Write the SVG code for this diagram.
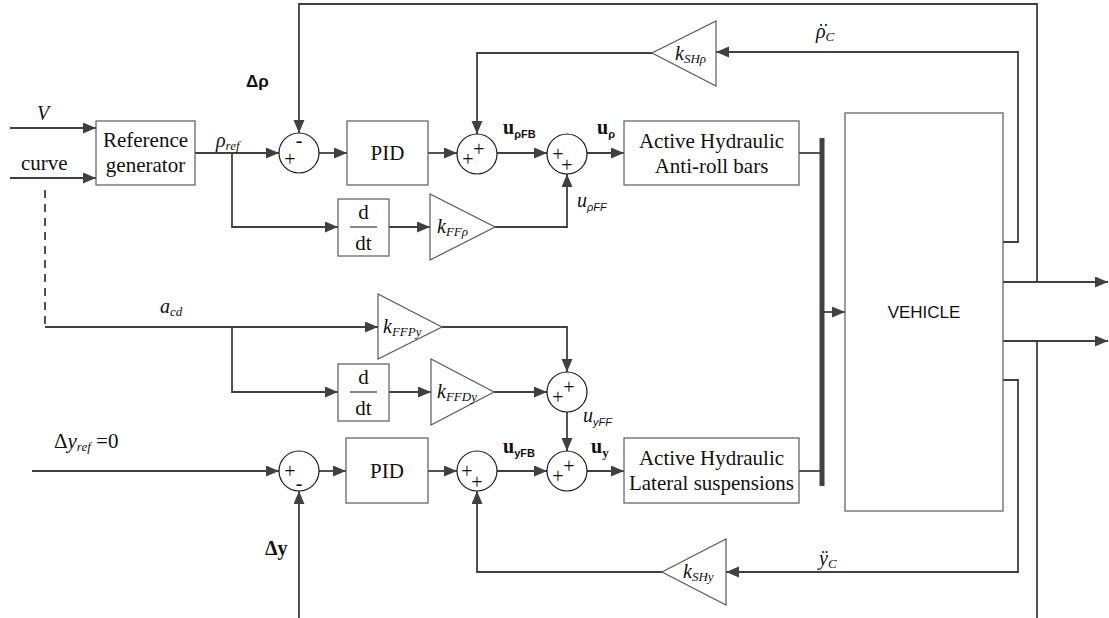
<svg xmlns="http://www.w3.org/2000/svg" width="1109" height="618" viewBox="0 0 1109 618">
<style>
.box{fill:#fff;stroke:#5a5a5a;stroke-width:1.2}
.tri{fill:#fff;stroke:#5a5a5a;stroke-width:1.2}
.sum{fill:#fff;stroke:#1a1a1a;stroke-width:1.2}
.c{fill:none;stroke:#404040;stroke-width:1.8}
.a{marker-end:url(#ah)}
.t{font-family:"Liberation Serif","Times New Roman",serif;font-size:21px;fill:#111}
.i{font-family:"Liberation Serif","Times New Roman",serif;font-style:italic;fill:#111}
.s{font-family:"Liberation Serif","Times New Roman",serif;font-size:20px;fill:#111}
.sb{font-family:"Liberation Sans",Arial,sans-serif;font-weight:bold;fill:#111}
.bs{font-family:"Liberation Serif","Times New Roman",serif;font-weight:bold;fill:#111}
.ss{font-family:"Liberation Sans",Arial,sans-serif;fill:#111}
</style>
<defs>
<marker id="ah" markerUnits="userSpaceOnUse" markerWidth="14" markerHeight="12" refX="13" refY="5.5" orient="auto">
<path d="M0,0 L13,5.5 L0,11 z" fill="#404040"/>
</marker>
</defs>
<rect width="1109" height="618" fill="#fff"/>

<g id="connectors">
<path class="c a" d="M10,128 H96"/>
<path class="c a" d="M10,178 H96"/>
<path class="c a" d="M195,153 H279"/>
<path class="c a" d="M232,153 V227 H338"/>
<path class="c a" d="M319,153 H347"/>
<path class="c a" d="M428,153 H457"/>
<path class="c a" d="M497,153 H547"/>
<path class="c a" d="M587,153 H624"/>
<path class="c a" d="M389,227 H430"/>
<path class="c a" d="M495,227 H567 V174"/>
<path class="c a" d="M1003,282 H1108"/>
<path class="c a" d="M1037,282 V4 H299 V133"/>
<path class="c a" d="M1003,242 H1018 V52 H716"/>
<path class="c a" d="M652,53 H477 V134"/>
<path class="c" d="M799,153 H822"/>
<path class="c" d="M799,471 H822"/>
<path fill="none" stroke="#404040" stroke-width="5" d="M822,138 V486"/>
<path class="c a" d="M822,312 H845"/>
<path class="c a" d="M1003,341 H1108"/>
<path class="c" d="M1037,341 V618"/>
<path class="c a" d="M1003,380 H1018 V572 H726"/>
<path class="c a" d="M662,572 H477 V491"/>
<path class="c a" d="M299,618 V491"/>
<path class="c a" d="M32,471 H279"/>
<path class="c a" d="M319,471 H346"/>
<path class="c a" d="M428,471 H457"/>
<path class="c a" d="M497,471 H547"/>
<path class="c a" d="M587,471 H624"/>
<path class="c a" d="M567,412 V451"/>
<path class="c" stroke-dasharray="8,6" d="M45,190 V327"/>
<path class="c a" d="M45,327 H378"/>
<path class="c a" d="M232,327 V392 H338"/>
<path class="c a" d="M389,392 H431"/>
<path class="c a" d="M494,392 H547"/>
<path class="c a" d="M442,327 H567 V372"/>
</g>

<g id="ref-gen">
<rect class="box" x="96" y="121" width="99" height="64"/>
<text class="t" x="145.5" y="147" text-anchor="middle">Reference</text>
<text class="t" x="145.5" y="172" text-anchor="middle">generator</text>
</g>

<g id="sum-rho">
<circle class="sum" cx="299" cy="153" r="20"/>
<text class="s" x="299" y="147" text-anchor="middle">-</text>
<text class="s" x="290" y="166" text-anchor="middle">+</text>
</g>

<g id="pid-rho">
<rect class="box" x="347" y="121" width="81" height="64"/>
<text class="t" x="387.5" y="160" text-anchor="middle">PID</text>
</g>

<g id="sum-rho-fb">
<circle class="sum" cx="477" cy="154" r="20"/>
<text class="s" x="468" y="166" text-anchor="middle">+</text>
<text class="s" x="479" y="156" text-anchor="middle">+</text>
</g>

<g id="sum-rho-u">
<circle class="sum" cx="567" cy="154" r="20"/>
<text class="s" x="558" y="161" text-anchor="middle">+</text>
<text class="s" x="567" y="172" text-anchor="middle">+</text>
</g>

<g id="act-rho">
<rect class="box" x="624" y="121" width="175" height="64"/>
<text class="t" x="711.5" y="148" text-anchor="middle">Active Hydraulic</text>
<text class="t" x="711.5" y="173" text-anchor="middle">Anti-roll bars</text>
</g>

<g id="ddt-rho">
<rect class="box" x="338" y="199" width="51" height="57"/>
<text class="t" x="363.5" y="219" text-anchor="middle">d</text>
<path d="M350,227 H377" stroke="#111" stroke-width="1"/>
<text class="t" x="363.5" y="250" text-anchor="middle">dt</text>
</g>

<g id="k-ff-rho">
<polygon class="tri" points="430,194 430,260 495,227"/>
<text class="i" x="437" y="233" font-size="20">k<tspan font-size="13" dy="3">FFρ</tspan></text>
</g>

<g id="k-sh-rho">
<polygon class="tri" points="716,21 716,86 652,53"/>
<text class="i" x="675" y="60" font-size="20">k<tspan font-size="13" dy="3">SHρ</tspan></text>
</g>

<g id="vehicle">
<rect class="box" x="845" y="113" width="158" height="398"/>
<text class="ss" x="924" y="318" font-size="17" text-anchor="middle">VEHICLE</text>
</g>

<g id="k-ffp-y">
<polygon class="tri" points="378,294 378,359 442,327"/>
<text class="i" x="383" y="333" font-size="20">k<tspan font-size="13" dy="3">FFPy</tspan></text>
</g>

<g id="ddt-y">
<rect class="box" x="338" y="364" width="51" height="57"/>
<text class="t" x="363.5" y="384" text-anchor="middle">d</text>
<path d="M350,392 H377" stroke="#111" stroke-width="1"/>
<text class="t" x="363.5" y="415" text-anchor="middle">dt</text>
</g>

<g id="k-ffd-y">
<polygon class="tri" points="431,359 431,425 494,392"/>
<text class="i" x="437" y="398" font-size="20">k<tspan font-size="13" dy="3">FFDy</tspan></text>
</g>

<g id="sum-y-ff">
<circle class="sum" cx="567" cy="392" r="20"/>
<text class="s" x="558" y="404" text-anchor="middle">+</text>
<text class="s" x="569" y="394" text-anchor="middle">+</text>
</g>

<g id="sum-y">
<circle class="sum" cx="299" cy="471" r="20"/>
<text class="s" x="290" y="478" text-anchor="middle">+</text>
<text class="s" x="299" y="490" text-anchor="middle">-</text>
</g>

<g id="pid-y">
<rect class="box" x="346" y="438" width="82" height="65"/>
<text class="t" x="387" y="478" text-anchor="middle">PID</text>
</g>

<g id="sum-y-fb">
<circle class="sum" cx="477" cy="471" r="20"/>
<text class="s" x="467" y="478" text-anchor="middle">+</text>
<text class="s" x="477" y="489" text-anchor="middle">+</text>
</g>

<g id="sum-y-u">
<circle class="sum" cx="567" cy="471" r="20"/>
<text class="s" x="558" y="483" text-anchor="middle">+</text>
<text class="s" x="569" y="473" text-anchor="middle">+</text>
</g>

<g id="act-y">
<rect class="box" x="624" y="438" width="175" height="65"/>
<text class="t" x="711.5" y="465" text-anchor="middle">Active Hydraulic</text>
<text class="t" x="711.5" y="490" text-anchor="middle">Lateral suspensions</text>
</g>

<g id="k-sh-y">
<polygon class="tri" points="726,539 726,605 662,572"/>
<text class="i" x="683" y="578" font-size="20">k<tspan font-size="13" dy="3">SHy</tspan></text>
</g>

<g id="labels">
<text class="i" x="43" y="120" font-size="20" text-anchor="middle">V</text>
<text class="t" x="21" y="170" font-size="20">curve</text>
<text class="i" x="216" y="147" font-size="20">ρ<tspan font-size="13" dy="3">ref</tspan></text>
<text class="sb" x="246" y="87" font-size="17">Δρ</text>
<text class="bs" x="503" y="134" font-size="20">u<tspan class="sb" font-size="11" dy="4">ρFB</tspan></text>
<text class="bs" x="597" y="134" font-size="20">u<tspan class="sb" font-size="11" dy="4">ρ</tspan></text>
<text class="i" x="577" y="207" font-size="20">u<tspan class="ss" font-style="italic" font-size="11" dy="4">ρFF</tspan></text>
<text class="i" x="816" y="38" font-size="20">ρ<tspan font-size="13" dy="3">C</tspan></text>
<circle cx="821" cy="25" r="1.1" fill="#111"/>
<circle cx="826" cy="25" r="1.1" fill="#111"/>
<text class="i" x="160" y="313" font-size="20">a<tspan font-size="13" dy="3">cd</tspan></text>
<text class="i" x="583" y="422" font-size="20">u<tspan class="ss" font-style="italic" font-size="11" dy="4">yFF</tspan></text>
<text class="bs" x="503" y="453" font-size="20">u<tspan class="sb" font-size="11" dy="4">yFB</tspan></text>
<text class="bs" x="591" y="453" font-size="20">u<tspan font-size="13" dy="4">y</tspan></text>
<text class="t" x="54" y="448" font-size="20">Δ<tspan class="i">y</tspan><tspan class="i" font-size="13" dy="3">ref</tspan><tspan dy="-3"> =0</tspan></text>
<text class="bs" x="265" y="555" font-size="20">Δy</text>
<text class="i" x="819" y="565" font-size="20">ÿ<tspan font-size="13" dy="3">C</tspan></text>
</g>
</svg>
